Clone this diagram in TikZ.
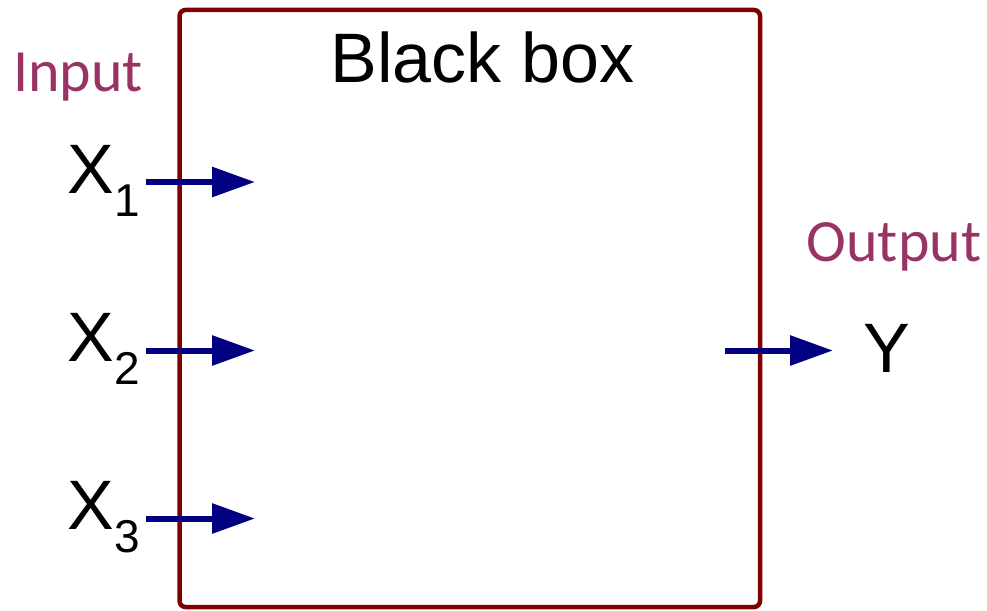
\documentclass[tikz,border=0pt]{standalone}
\usepackage{fontspec}
\setmainfont{Liberation Sans}
\newfontfamily\calib{Carlito}
\usetikzlibrary{arrows.meta}
\definecolor{boxred}{HTML}{800000}
\definecolor{arrowblue}{HTML}{000080}
\definecolor{labelpurple}{HTML}{993366}
\newcommand{\xin}[1]{X\raisebox{-23pt}{\fontsize{46}{46}\selectfont #1}}
\tikzset{
  blackbox/.style={draw=boxred, line width=4.5pt, rounded corners=6pt, inner sep=0pt,
    minimum width=580.5pt, minimum height=597pt},
  flow/.style={draw=arrowblue, line width=6pt, -{Triangle[length=43pt,width=29pt]}},
  bigtext/.style={font=\fontsize{70}{70}\selectfont, anchor=base, inner sep=0pt},
  tag/.style={font=\calib\fontsize{60}{60}\selectfont, text=labelpurple, anchor=base, inner sep=0pt}
}
\begin{document}
\begin{tikzpicture}[x=1pt,y=-1pt]
\useasboundingbox (0,0) rectangle (987,610);
\node[blackbox] (box) at (469.75,308.5) {};
\node[bigtext] (title) at (482.5,82) {Black box};
\node[tag] (input) at (78,92) {Input};
\node[tag] (output) at (894,261) {Output};
\node[bigtext] (x1) at (104,193) {\xin{1}};
\node[bigtext] (x2) at (104,361) {\xin{2}};
\node[bigtext] (x3) at (104,529) {\xin{3}};
\node[bigtext] (y) at (887,372) {Y};
\coordinate (s1) at (146,182);
\coordinate (t1) at (255,182);
\coordinate (s2) at (146,350.5);
\coordinate (t2) at (255,350.5);
\coordinate (s3) at (146,518.5);
\coordinate (t3) at (255,518.5);
\coordinate (so) at (725,350.5);
\coordinate (to) at (833,350.5);
\draw[flow] (s1) -- (t1);
\draw[flow] (s2) -- (t2);
\draw[flow] (s3) -- (t3);
\draw[flow] (so) -- (to);
\end{tikzpicture}
\end{document}
